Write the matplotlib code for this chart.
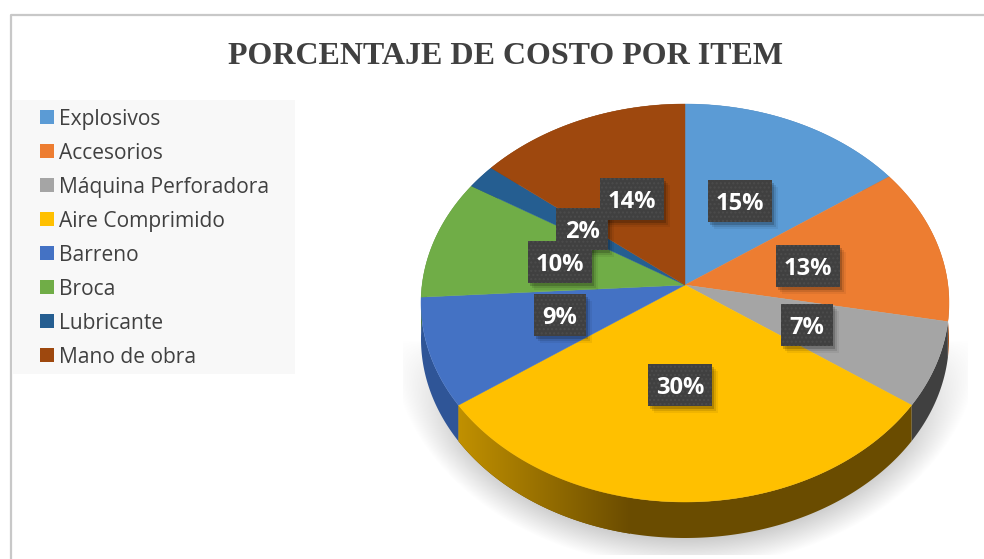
import matplotlib
matplotlib.use("Agg")
import matplotlib.pyplot as plt
import numpy as np
from matplotlib.patches import Rectangle

names = ["Explosivos", "Accesorios", "Máquina Perforadora", "Aire Comprimido",
         "Barreno", "Broca", "Lubricante", "Mano de obra"]
values = [15, 13, 7, 30, 9, 10, 2, 14]
colors = ["#5b9bd5", "#ed7d31", "#a5a5a5", "#ffc000",
          "#4472c4", "#70ad47", "#255e91", "#9e480e"]
side_colors = ["#3d6f9e", "#a8561f", "#404040", "#6a4c00",
               "#2f5597", "#4e7a31", "#1a4266", "#6e3209"]
title = "PORCENTAJE DE COSTO POR ITEM"

# layout, in pixels of the 984x559 picture
label_centers = [(740, 201), (808, 266), (807, 325), (680, 385),
                 (560, 315), (560, 262), (582, 229), (632, 199)]
cx, cy, rx, ry = 685, 303, 264, 199
apex_x, apex_y = 685, 285
k = 0.73
depth = 36


def rim_points(t0, t1):
    # rays from the apex to the rim of the tilted ellipse
    t = np.radians(np.linspace(t0, t1, max(int(abs(t1 - t0)) * 2, 4)))
    dx, dy = np.sin(t), -k * np.cos(t)
    ox, oy = apex_x - cx, apex_y - cy
    a = (dx / rx) ** 2 + (dy / ry) ** 2
    b = 2 * (ox * dx / rx**2 + oy * dy / ry**2)
    c = (ox / rx) ** 2 + (oy / ry) ** 2 - 1
    s = (-b + np.sqrt(b**2 - 4 * a * c)) / (2 * a)
    return apex_x + s * dx, apex_y + s * dy


fig = plt.figure(figsize=(9.84, 5.59), dpi=100)
ax = fig.add_axes([0, 0, 1, 1])
ax.set_xlim(0, 984)
ax.set_ylim(559, 0)
ax.axis("off")

# frame
ax.plot([11, 11, 984], [559, 15, 15], color="#c8c8c8", lw=1.6, zorder=1)

# soft floor shadow under the pie
yy, xx = np.mgrid[0:559, 0:984]
dist = np.sqrt(((xx - 685) / 296.0) ** 2 + ((yy - 335) / 232.0) ** 2)
fade = np.clip((1.0 - dist) / 0.14, 0, 1)
fade = fade * np.clip((yy - 340) / 110.0, 0, 1) ** 0.8
fade[(xx < 403) | (xx > 967) | (yy > 554)] = 0
shadow = np.ones((559, 984, 4))
shadow[..., :3] = 0.74
shadow[..., 3] = fade * 0.85
ax.imshow(shadow, extent=(0, 984, 559, 0), aspect="auto", zorder=2,
          interpolation="bilinear")

# side wall, then the top of each slice
angles = np.concatenate([[0], np.cumsum(values) / sum(values) * 360])
for i, v in enumerate(values):
    x, y = rim_points(angles[i], angles[i + 1])
    side = ax.fill(np.r_[x, x[::-1]], np.r_[y, y[::-1] + depth],
                   color=side_colors[i], lw=0, zorder=3)[0]
    if names[i] == "Aire Comprimido":
        # the big slice's wall gets lighter towards its left end
        grad = np.clip(np.linspace(0, 1, 256), 0, 1)
        c0, c1 = np.array([0.76, 0.57, 0.0]), np.array([0.42, 0.30, 0.0])
        img = np.array([c0 + (c1 - c0) * g for g in grad])[None, :, :]
        im = ax.imshow(img, extent=(456, 630, 559, 0), aspect="auto", zorder=3.5)
        im.set_clip_path(side)
    ax.fill(np.r_[apex_x, x], np.r_[apex_y, y], color=colors[i],
            lw=0.3, ec=colors[i], zorder=4)

# percent labels
for (lx, ly), v in zip(label_centers, values):
    w = 64 if v >= 10 else 52
    h = 42
    for off, al in [(7, 0.06), (5, 0.10), (3, 0.18)]:
        ax.add_patch(Rectangle((lx - w / 2 + off - 1, ly - h / 2 + off), w, h, fc="black",
                               alpha=al, lw=0, zorder=5))
for (lx, ly), v in zip(label_centers, values):
    w = 64 if v >= 10 else 52
    h = 42
    ax.add_patch(Rectangle((lx - w / 2, ly - h / 2), w, h, fc="#404040", ec="#4c4c4c",
                           hatch="....", lw=0, zorder=6))
    ax.text(lx, ly + 3, f"{v}%", color="white", fontsize=17, fontweight="bold",
            family="Open Sans", ha="center", va="center", zorder=7)

# legend
ax.add_patch(Rectangle((13, 100), 282, 274, fc="#f8f8f8", lw=0, zorder=1))
for i, name in enumerate(names):
    y = 116.5 + i * 34.1
    ax.add_patch(Rectangle((40, y - 7), 14, 14, fc=colors[i], lw=0, zorder=2))
    ax.text(59, y + 2.5, name, color="#404040", fontsize=15.1, family="Open Sans",
            ha="left", va="center", zorder=2)

ax.text(505, 57, title, color="#404040", fontsize=23, fontweight="bold",
        family="Liberation Serif", ha="center", va="center", zorder=2)

plt.savefig("out.png", dpi=100)
